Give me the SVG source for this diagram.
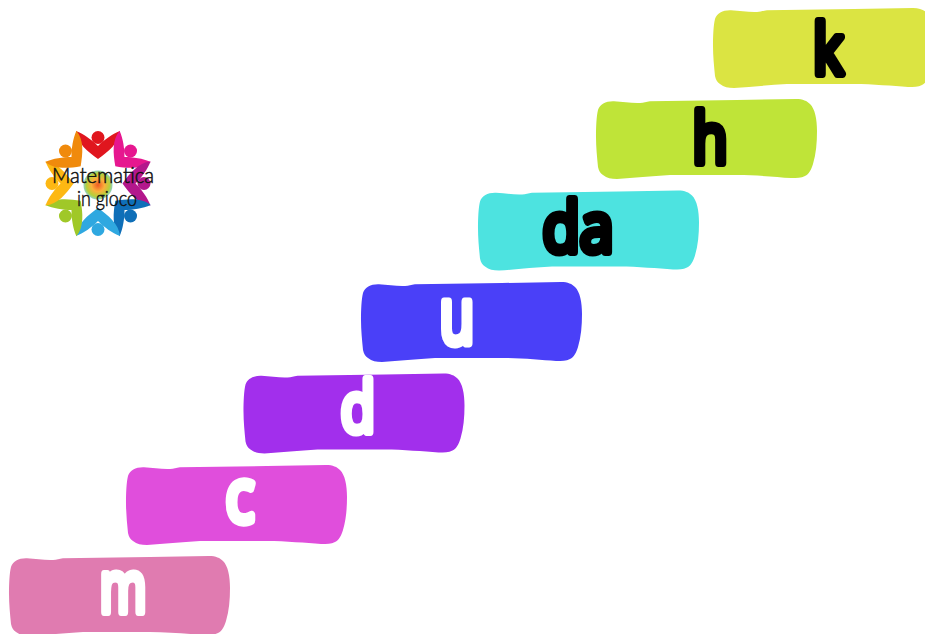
<svg xmlns="http://www.w3.org/2000/svg" width="925" height="634" viewBox="0 0 925 634">
<style>
.lb{font-family:"Open Sans","Liberation Sans",sans-serif;font-weight:400;font-size:70px;text-anchor:middle;stroke-width:8px;stroke-linejoin:round;stroke-linecap:round;paint-order:stroke}
.w{fill:#fff;stroke:#fff}.b{fill:#000;stroke:#000}
.lg{font-family:"Lato","Liberation Sans",sans-serif;font-weight:300;font-size:21px;fill:#111;stroke:#111;stroke-width:.5px;text-anchor:middle}
</style>
<defs>
<path id="bar" d="M0 38C0 28 .5 17 2 11C4 5 10 2 18 2.300C27 2.600 36 4.500 44 4C48 3.800 50 2.800 54 2.300L141 1L200 0C207 0 211 2 214 5C219 10 221 20 221 32C221 44 220 55 217 65C215 71 213 75 209 77C205 79 201 79 195 79C180 78 160 76 141 76L74 76C55 77 38 79 21 80C15 80 11 79 7 76C4 74 3 72 2 68C1 58 0 48 0 38Z"/>
<g id="fig"><path d="M76 131C84 134 92 140 98 146C104 140 112 134 120 131C119 143 108 152 98 159C88 152 77 143 76 131Z"/><circle cx="98" cy="137.500" r="6.500"/></g>
<radialGradient id="core"><stop offset="0" stop-color="#ef5a24"/><stop offset=".45" stop-color="#fbb03b"/><stop offset=".8" stop-color="#b5cf3a"/><stop offset="1" stop-color="#8fd0c0"/></radialGradient>
</defs>
<g id="logo">
<use href="#fig" fill="#e0161e"/>
<use href="#fig" fill="#e6178f" transform="rotate(45 98 183.500)"/>
<use href="#fig" fill="#b3178c" transform="rotate(90 98 183.500)"/>
<use href="#fig" fill="#0f6fb8" transform="rotate(135 98 183.500)"/>
<use href="#fig" fill="#2fa8e0" transform="rotate(180 98 183.500)"/>
<use href="#fig" fill="#a0c828" transform="rotate(225 98 183.500)"/>
<use href="#fig" fill="#fdb813" transform="rotate(270 98 183.500)"/>
<use href="#fig" fill="#f08a0c" transform="rotate(315 98 183.500)"/>
<circle cx="98" cy="185" r="14.500" fill="url(#core)"/>
<text class="lg" x="103" y="183" textLength="102" lengthAdjust="spacingAndGlyphs">Matematica</text>
<text class="lg" x="107" y="206" textLength="60" lengthAdjust="spacingAndGlyphs">in gioco</text>
</g>
<g id="node-m"><use href="#bar" x="9" y="556" fill="#e07bb0"/><text class="lb w" transform="translate(123 612) scale(.72 1.03)">m</text></g>
<g id="node-c"><use href="#bar" x="126" y="465" fill="#e04edc"/><text class="lb w" transform="translate(240 522) scale(.85 1.07)">c</text></g>
<g id="node-d"><use href="#bar" x="243.500" y="373.500" fill="#a22fec"/><text class="lb w" transform="translate(358 432) scale(.8 1)">d</text></g>
<g id="node-u"><use href="#bar" x="361" y="282" fill="#4a40f8"/><text class="lb w" transform="translate(457 343) scale(.8 1.1)">u</text></g>
<g id="node-da"><use href="#bar" x="478" y="190.500" fill="#4de3e0"/><text class="lb b" transform="translate(578 252) scale(.87 1)">da</text></g>
<g id="node-h"><use href="#bar" x="596" y="99" fill="#bfe438"/><text class="lb b" transform="translate(710 163) scale(.82 1)">h</text></g>
<g id="node-k"><use href="#bar" x="713" y="8" fill="#dbe442"/><text class="lb b" transform="translate(828 74) scale(.82 1)">k</text></g>
<g id="connectors"/>
</svg>
